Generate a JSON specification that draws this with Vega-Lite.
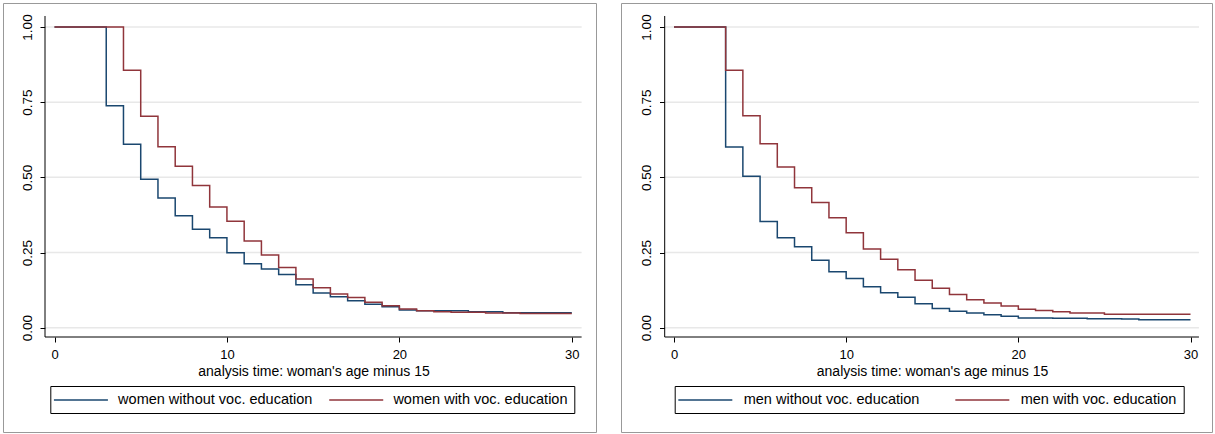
{
  "$schema": "https://vega.github.io/schema/vega-lite/v6.json",
  "padding": {"left": 2, "top": 2, "right": 0, "bottom": 0},
  "background": "white",
  "config": {
    "font": "Liberation Sans",
    "view": {"stroke": "#999999", "strokeWidth": 1}
  },
  "spacing": 23,
  "resolve": {
    "scale": {"x": "independent", "y": "independent", "color": "independent"},
    "legend": {"color": "independent"}
  },
  "datasets": {
    "women": [
      {"series": "women without voc. education", "t": 0, "s": 1.0},
      {"series": "women without voc. education", "t": 3, "s": 0.738},
      {"series": "women without voc. education", "t": 4, "s": 0.610},
      {"series": "women without voc. education", "t": 5, "s": 0.494},
      {"series": "women without voc. education", "t": 6, "s": 0.431},
      {"series": "women without voc. education", "t": 7, "s": 0.372},
      {"series": "women without voc. education", "t": 8, "s": 0.327},
      {"series": "women without voc. education", "t": 9, "s": 0.299},
      {"series": "women without voc. education", "t": 10, "s": 0.249},
      {"series": "women without voc. education", "t": 11, "s": 0.213},
      {"series": "women without voc. education", "t": 12, "s": 0.195},
      {"series": "women without voc. education", "t": 13, "s": 0.177},
      {"series": "women without voc. education", "t": 14, "s": 0.143},
      {"series": "women without voc. education", "t": 15, "s": 0.115},
      {"series": "women without voc. education", "t": 16, "s": 0.103},
      {"series": "women without voc. education", "t": 17, "s": 0.090},
      {"series": "women without voc. education", "t": 18, "s": 0.078},
      {"series": "women without voc. education", "t": 19, "s": 0.070},
      {"series": "women without voc. education", "t": 20, "s": 0.059},
      {"series": "women without voc. education", "t": 21, "s": 0.056},
      {"series": "women without voc. education", "t": 24, "s": 0.053},
      {"series": "women without voc. education", "t": 26, "s": 0.050},
      {"series": "women without voc. education", "t": 30, "s": 0.050},
      {"series": "women with voc. education", "t": 0, "s": 1.0},
      {"series": "women with voc. education", "t": 4, "s": 0.856},
      {"series": "women with voc. education", "t": 5, "s": 0.703},
      {"series": "women with voc. education", "t": 6, "s": 0.602},
      {"series": "women with voc. education", "t": 7, "s": 0.537},
      {"series": "women with voc. education", "t": 8, "s": 0.473},
      {"series": "women with voc. education", "t": 9, "s": 0.401},
      {"series": "women with voc. education", "t": 10, "s": 0.354},
      {"series": "women with voc. education", "t": 11, "s": 0.288},
      {"series": "women with voc. education", "t": 12, "s": 0.242},
      {"series": "women with voc. education", "t": 13, "s": 0.200},
      {"series": "women with voc. education", "t": 14, "s": 0.162},
      {"series": "women with voc. education", "t": 15, "s": 0.133},
      {"series": "women with voc. education", "t": 16, "s": 0.112},
      {"series": "women with voc. education", "t": 17, "s": 0.100},
      {"series": "women with voc. education", "t": 18, "s": 0.085},
      {"series": "women with voc. education", "t": 19, "s": 0.073},
      {"series": "women with voc. education", "t": 20, "s": 0.062},
      {"series": "women with voc. education", "t": 21, "s": 0.056},
      {"series": "women with voc. education", "t": 22, "s": 0.053},
      {"series": "women with voc. education", "t": 23, "s": 0.051},
      {"series": "women with voc. education", "t": 25, "s": 0.049},
      {"series": "women with voc. education", "t": 27, "s": 0.047},
      {"series": "women with voc. education", "t": 30, "s": 0.047}
    ],
    "men": [
      {"series": "men without voc. education", "t": 0, "s": 1.0},
      {"series": "men without voc. education", "t": 3, "s": 0.601},
      {"series": "men without voc. education", "t": 4, "s": 0.504},
      {"series": "men without voc. education", "t": 5, "s": 0.353},
      {"series": "men without voc. education", "t": 6, "s": 0.299},
      {"series": "men without voc. education", "t": 7, "s": 0.269},
      {"series": "men without voc. education", "t": 8, "s": 0.224},
      {"series": "men without voc. education", "t": 9, "s": 0.186},
      {"series": "men without voc. education", "t": 10, "s": 0.164},
      {"series": "men without voc. education", "t": 11, "s": 0.136},
      {"series": "men without voc. education", "t": 12, "s": 0.116},
      {"series": "men without voc. education", "t": 13, "s": 0.101},
      {"series": "men without voc. education", "t": 14, "s": 0.080},
      {"series": "men without voc. education", "t": 15, "s": 0.064},
      {"series": "men without voc. education", "t": 16, "s": 0.055},
      {"series": "men without voc. education", "t": 17, "s": 0.049},
      {"series": "men without voc. education", "t": 18, "s": 0.043},
      {"series": "men without voc. education", "t": 19, "s": 0.038},
      {"series": "men without voc. education", "t": 20, "s": 0.032},
      {"series": "men without voc. education", "t": 22, "s": 0.031},
      {"series": "men without voc. education", "t": 24, "s": 0.030},
      {"series": "men without voc. education", "t": 26, "s": 0.029},
      {"series": "men without voc. education", "t": 27, "s": 0.026},
      {"series": "men without voc. education", "t": 30, "s": 0.026},
      {"series": "men with voc. education", "t": 0, "s": 1.0},
      {"series": "men with voc. education", "t": 3, "s": 0.856},
      {"series": "men with voc. education", "t": 4, "s": 0.705},
      {"series": "men with voc. education", "t": 5, "s": 0.612},
      {"series": "men with voc. education", "t": 6, "s": 0.534},
      {"series": "men with voc. education", "t": 7, "s": 0.465},
      {"series": "men with voc. education", "t": 8, "s": 0.416},
      {"series": "men with voc. education", "t": 9, "s": 0.366},
      {"series": "men with voc. education", "t": 10, "s": 0.316},
      {"series": "men with voc. education", "t": 11, "s": 0.262},
      {"series": "men with voc. education", "t": 12, "s": 0.228},
      {"series": "men with voc. education", "t": 13, "s": 0.193},
      {"series": "men with voc. education", "t": 14, "s": 0.158},
      {"series": "men with voc. education", "t": 15, "s": 0.131},
      {"series": "men with voc. education", "t": 16, "s": 0.110},
      {"series": "men with voc. education", "t": 17, "s": 0.093},
      {"series": "men with voc. education", "t": 18, "s": 0.082},
      {"series": "men with voc. education", "t": 19, "s": 0.072},
      {"series": "men with voc. education", "t": 20, "s": 0.061},
      {"series": "men with voc. education", "t": 21, "s": 0.057},
      {"series": "men with voc. education", "t": 22, "s": 0.053},
      {"series": "men with voc. education", "t": 23, "s": 0.049},
      {"series": "men with voc. education", "t": 25, "s": 0.045},
      {"series": "men with voc. education", "t": 30, "s": 0.045}
    ],
    "grid": [{"g": 0}, {"g": 0.25}, {"g": 0.5}, {"g": 0.75}, {"g": 1}]
  },
  "hconcat": [
    {
      "width": 593,
      "height": 429,
      "layer": [
        {
          "data": {"name": "grid"},
          "mark": {"type": "rule", "color": "#e8e8e8", "strokeWidth": 1.5},
          "encoding": {
            "y": {"field": "g", "type": "quantitative", "scale": {"domain": [-0.3469, 1.0798], "nice": false, "zero": false}},
            "x": {"datum": -0.551, "type": "quantitative", "scale": {"domain": [-2.987, 31.404], "nice": false, "zero": false}},
            "x2": {"datum": 30.57}
          }
        },
        {
          "data": {"values": [{}]},
          "mark": {"type": "rule", "color": "black", "strokeWidth": 1},
          "encoding": {
            "x": {"datum": -0.551, "type": "quantitative", "scale": {"domain": [-2.987, 31.404], "nice": false, "zero": false}},
            "y": {"datum": -0.031, "type": "quantitative", "scale": {"domain": [-0.3469, 1.0798], "nice": false, "zero": false}},
            "y2": {"datum": 1.0366}
          }
        },
        {
          "data": {"values": [{}]},
          "mark": {"type": "rule", "color": "black", "strokeWidth": 1},
          "encoding": {
            "x": {"datum": -0.551, "type": "quantitative", "scale": {"domain": [-2.987, 31.404], "nice": false, "zero": false}},
            "x2": {"datum": 30.57},
            "y": {"datum": -0.031, "type": "quantitative", "scale": {"domain": [-0.3469, 1.0798], "nice": false, "zero": false}}
          }
        },
        {
          "data": {"name": "women"},
          "mark": {"type": "line", "interpolate": "step-after", "strokeWidth": 1.5},
          "encoding": {
            "x": {
              "field": "t", "type": "quantitative",
              "scale": {"domain": [-2.987, 31.404], "nice": false, "zero": false},
              "axis": {
                "values": [0, 10, 20, 30], "format": "d", "offset": -95,
                "domain": false, "grid": false, "tickSize": 5, "tickColor": "black", "tickWidth": 1,
                "labelPadding": 6, "labelFontSize": 13, "labelColor": "black", "labelFlush": false,
                "title": "analysis time: woman's age minus 15", "titleFontSize": 14, "titleFontWeight": "normal",
                "titleColor": "black", "titleX": 310.5, "titleY": 38, "titleAlign": "center", "titleBaseline": "alphabetic"
              }
            },
            "y": {
              "field": "s", "type": "quantitative",
              "scale": {"domain": [-0.3469, 1.0798], "nice": false, "zero": false},
              "axis": {
                "values": [0, 0.25, 0.5, 0.75, 1], "format": ".2f", "offset": -42,
                "domain": false, "grid": false, "tickSize": 5, "tickColor": "black", "tickWidth": 1,
                "labelAngle": 270, "labelAlign": "center", "labelBaseline": "bottom", "labelPadding": 6,
                "labelFontSize": 13.5, "labelColor": "black", "labelFlush": false, "labelOverlap": false,
                "title": null
              }
            },
            "color": {
              "field": "series", "type": "nominal",
              "scale": {"domain": ["women without voc. education", "women with voc. education"], "range": ["#1a476f", "#90353b"]},
              "legend": {
                "orient": "none", "legendX": 47.3, "legendY": 383, "direction": "horizontal", "columns": 2,
                "title": null, "symbolType": "M-3,0H13", "symbolSize": 45.56, "symbolStrokeWidth": 1.5,
                "labelFontSize": 14.5, "labelColor": "black", "labelOffset": 46.8, "labelLimit": 400,
                "columnPadding": 13.3, "padding": 6.5, "strokeColor": "black", "fillColor": "white"
              }
            }
          }
        }
      ]
    },
    {
      "width": 591,
      "height": 429,
      "layer": [
        {
          "data": {"name": "grid"},
          "mark": {"type": "rule", "color": "#e8e8e8", "strokeWidth": 1.5},
          "encoding": {
            "y": {"field": "g", "type": "quantitative", "scale": {"domain": [-0.3469, 1.0798], "nice": false, "zero": false}},
            "x": {"datum": -0.54, "type": "quantitative", "scale": {"domain": [-3.078, 31.248], "nice": false, "zero": false}},
            "x2": {"datum": 30.49}
          }
        },
        {
          "data": {"values": [{}]},
          "mark": {"type": "rule", "color": "black", "strokeWidth": 1},
          "encoding": {
            "x": {"datum": -0.54, "type": "quantitative", "scale": {"domain": [-3.078, 31.248], "nice": false, "zero": false}},
            "y": {"datum": -0.031, "type": "quantitative", "scale": {"domain": [-0.3469, 1.0798], "nice": false, "zero": false}},
            "y2": {"datum": 1.0366}
          }
        },
        {
          "data": {"values": [{}]},
          "mark": {"type": "rule", "color": "black", "strokeWidth": 1},
          "encoding": {
            "x": {"datum": -0.54, "type": "quantitative", "scale": {"domain": [-3.078, 31.248], "nice": false, "zero": false}},
            "x2": {"datum": 30.49},
            "y": {"datum": -0.031, "type": "quantitative", "scale": {"domain": [-0.3469, 1.0798], "nice": false, "zero": false}}
          }
        },
        {
          "data": {"name": "men"},
          "mark": {"type": "line", "interpolate": "step-after", "strokeWidth": 1.5},
          "encoding": {
            "x": {
              "field": "t", "type": "quantitative",
              "scale": {"domain": [-3.078, 31.248], "nice": false, "zero": false},
              "axis": {
                "values": [0, 10, 20, 30], "format": "d", "offset": -95,
                "domain": false, "grid": false, "tickSize": 5, "tickColor": "black", "tickWidth": 1,
                "labelPadding": 6, "labelFontSize": 13, "labelColor": "black", "labelFlush": false,
                "title": "analysis time: woman's age minus 15", "titleFontSize": 14, "titleFontWeight": "normal",
                "titleColor": "black", "titleX": 311, "titleY": 38, "titleAlign": "center", "titleBaseline": "alphabetic"
              }
            },
            "y": {
              "field": "s", "type": "quantitative",
              "scale": {"domain": [-0.3469, 1.0798], "nice": false, "zero": false},
              "axis": {
                "values": [0, 0.25, 0.5, 0.75, 1], "format": ".2f", "offset": -43.5,
                "domain": false, "grid": false, "tickSize": 5, "tickColor": "black", "tickWidth": 1,
                "labelAngle": 270, "labelAlign": "center", "labelBaseline": "bottom", "labelPadding": 6,
                "labelFontSize": 13.5, "labelColor": "black", "labelFlush": false, "labelOverlap": false,
                "title": null
              }
            },
            "color": {
              "field": "series", "type": "nominal",
              "scale": {"domain": ["men without voc. education", "men with voc. education"], "range": ["#1a476f", "#90353b"]},
              "legend": {
                "orient": "none", "legendX": 53.7, "legendY": 383, "direction": "horizontal", "columns": 2,
                "title": null, "symbolType": "M-3,0H13", "symbolSize": 45.56, "symbolStrokeWidth": 1.5,
                "labelFontSize": 14.5, "labelColor": "black", "labelOffset": 48, "labelLimit": 400,
                "columnPadding": 32, "padding": 6.5, "strokeColor": "black", "fillColor": "white"
              }
            }
          }
        }
      ]
    }
  ]
}
